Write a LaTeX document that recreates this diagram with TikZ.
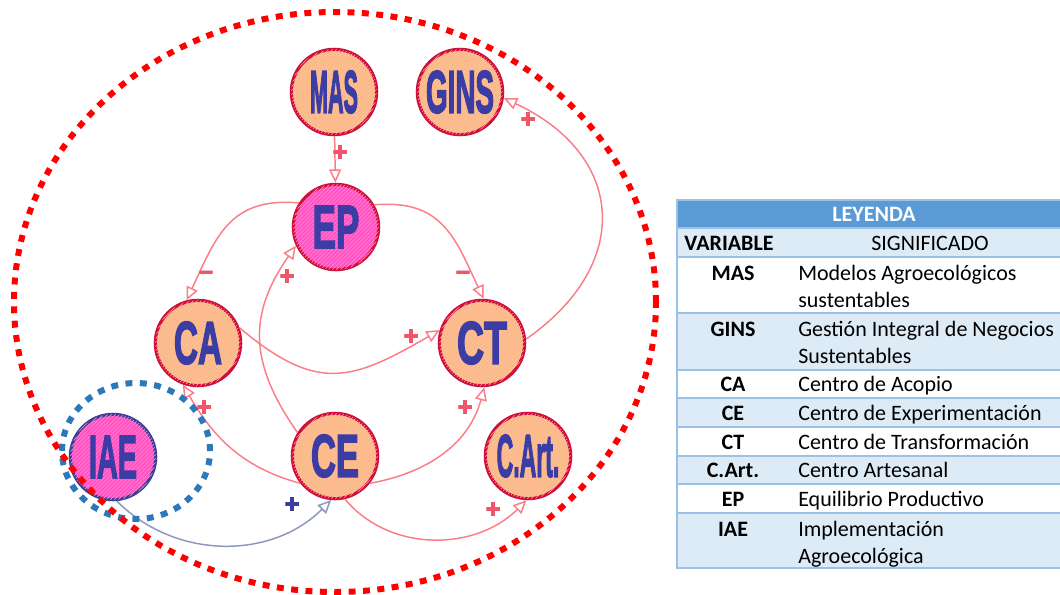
\documentclass[tikz,border=0pt]{standalone}
\usepackage{fontspec}
\setmainfont{Carlito}
\newfontfamily\labelfont{Liberation Sans}[BoldFeatures={FakeBold=3}]
\usepackage{graphicx}
\usepackage{tikz}
\usetikzlibrary{arrows.meta, positioning, patterns}

\definecolor{NodePeach}{RGB}{255,190,145}
\definecolor{NodePeachHatch}{RGB}{250,178,132}
\definecolor{NodePink}{RGB}{255,80,200}
\definecolor{NodePinkHatch}{RGB}{255,120,212}
\definecolor{NodeRim}{RGB}{205,15,60}
\definecolor{LabelBlue}{RGB}{60,60,165}
\definecolor{RimBlue}{RGB}{60,60,150}
\definecolor{LinkRed}{RGB}{250,125,135}
\definecolor{SignRed}{RGB}{240,85,105}
\definecolor{LinkBlue}{RGB}{140,150,190}
\definecolor{BoundRed}{RGB}{255,0,0}
\definecolor{BoundBlue}{RGB}{45,120,185}
\definecolor{TabHead}{RGB}{91,155,213}
\definecolor{TabShade}{RGB}{221,235,247}
\definecolor{TabRule}{RGB}{155,194,230}

\newcommand{\varlabel}[2]{\resizebox{#1}{31.5pt}{\labelfont\bfseries #2}}

\tikzset{
  var/.style={circle, draw=NodeRim, fill=NodePeach, line width=2.4pt,
    minimum size=64pt, inner sep=0pt, text=LabelBlue,
    postaction={pattern=north east lines, pattern color=NodePeachHatch}},
  core/.style={var, fill=NodePink,
    postaction={pattern=north east lines, pattern color=NodePinkHatch}},
  link/.style={-{Triangle[open, length=10pt, width=9pt]}, draw=LinkRed,
    line width=1.1pt},
  linkiae/.style={link, draw=LinkBlue},
  sign/.style={font=\fontsize{19}{19}\labelfont\bfseries, text=SignRed,
    inner sep=0pt},
  bound/.style={draw=BoundRed, line width=4.5pt, dash pattern=on 5.2pt off 5.6pt},
  cell/.style={font=\fontsize{16.5}{20.25}\selectfont, inner sep=0pt},
  rule/.style={draw=TabRule, line width=1pt}
}

\begin{document}
\begin{tikzpicture}[x=0.75pt, y=0.75pt]
  \useasboundingbox (0,0) rectangle (1060,-594);
  % variables
  \node[var] (MAS) at (334,-92) {\varlabel{36pt}{MAS}};
  \node[var] (GINS) at (460,-92) {\varlabel{51pt}{GINS}};
  \node[core] (EP) at (336,-227) {\varlabel{35pt}{EP}};
  \node[var] (CA) at (198,-343) {\varlabel{36pt}{CA}};
  \node[var] (CT) at (482,-343) {\varlabel{37.5pt}{CT}};
  \node[var] (CE) at (335,-456) {\varlabel{36pt}{CE}};
  \node[var] (CArt) at (528,-456) {\varlabel{47pt}{C.Art.}};
  \node[core, draw=RimBlue] (IAE) at (113,-457) {\varlabel{36pt}{IAE}};
  % links
  \draw[link] (MAS) -- (EP);
  \draw[link] (EP.147) to[out=175, in=65, looseness=1.2] (CA.105);
  \draw[link] (EP.30) to[out=5, in=115, looseness=1.2] (CT.88);
  \draw[link] (CA.20) to[out=-40, in=-150, looseness=1.3] (CT.163);
  \draw[link] (CE.148) to[out=125, in=235, looseness=1.15] (EP.205);
  \draw[link] (CE.218) to[out=165, in=-60] (CA.250);
  \draw[link] (CE.-38) to[out=10, in=-105] (CT.-87);
  \draw[link] (CE.-77) to[out=-50, in=-135] (CArt.-92);
  \draw[link] (CT.5) to[out=35, in=-25, looseness=1.4] (GINS.-8);
  \draw[linkiae] (IAE.-85) to[out=-45, in=-135] (CE.-95);
  % polarities
  \node[sign] (pMasEp) at (340,-153) {+};
  \node[sign] (pEpCa) at (206,-275) {–};
  \node[sign] (pEpCt) at (463,-275) {–};
  \node[sign] (pCaCt) at (411,-337) {+};
  \node[sign] (pCeEp) at (287,-277) {+};
  \node[sign] (pCeCa) at (204,-408) {+};
  \node[sign] (pCeCt) at (465,-408) {+};
  \node[sign] (pCeArt) at (493,-510) {+};
  \node[sign] (pCtGins) at (528,-120) {+};
  \node[sign, text=LabelBlue] (pIaeCe) at (292,-505) {+};
  % boundaries
  \draw[bound, draw=BoundBlue] (136,-451) ellipse (74 and 68);
  \draw[bound] (335,-302) ellipse (321 and 290);
  % legend
  \fill[TabHead] (677,-200) rectangle (1060,-228);
  \foreach \top/\bot in {228/257, 313/370, 398/427, 456/484, 513/568}
    \fill[TabShade] (677,-\top) rectangle (1060,-\bot);
  \foreach \y in {228,257,313,370,398,427,456,484,513}
    \draw[rule] (677,-\y) -- (1060,-\y);
  \draw[rule, line width=1.3pt] (1060,-568) -- (677,-568) -- (677,-200) -- (1060,-200);
  \node[cell, font=\fontsize{16.5}{20.25}\bfseries, text=white, anchor=base]
    (legend) at (874,-221) {LEYENDA};
  \node[cell, font=\fontsize{16.5}{20.25}\bfseries, anchor=base] (colvar) at (729,-250) {VARIABLE};
  \node[cell, anchor=base] (colmean) at (930,-250) {SIGNIFICADO};
  \foreach \key/\first/\last/\txt [count=\i] in {
      MAS/280/307/{Modelos Agroecológicos\\sustentables},
      GINS/336/363/{Gestión Integral de Negocios\\Sustentables},
      CA/391/391/{Centro de Acopio},
      CE/420/420/{Centro de Experimentación},
      CT/449/449/{Centro de Transformación},
      C.Art./477/477/{Centro Artesanal},
      EP/506/506/{Equilibrio Productivo},
      IAE/536/563/{Implementación\\Agroecológica}} {
    \node[cell, font=\fontsize{16.5}{20.25}\bfseries, anchor=base] (vname\i) at (733,-\first) {\key};
    \node[cell, align=left, anchor=base west] (vmean\i) at (798,-\last) {\txt};
  }
\end{tikzpicture}
\end{document}
